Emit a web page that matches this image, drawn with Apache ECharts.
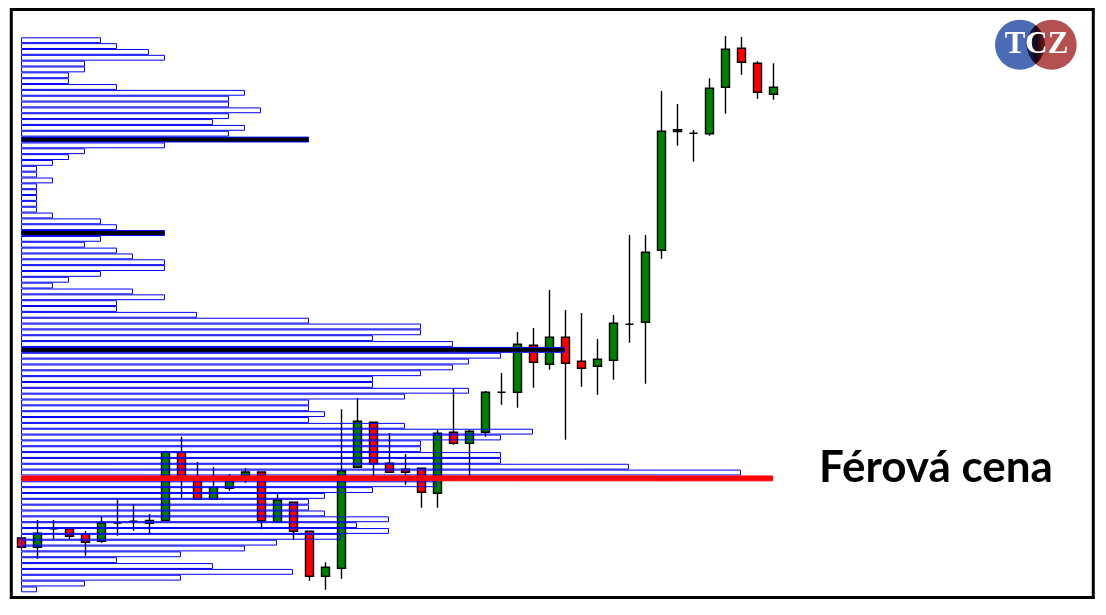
<!DOCTYPE html>
<html>
<head>
<meta charset="utf-8">
<script src="https://cdn.jsdelivr.net/npm/echarts@6/dist/echarts.min.js"></script>
<style>html,body{margin:0;padding:0;background:#fff;}#c{width:1106px;height:615px;}</style>
</head>
<body>
<div id="c"></div>
<script>
// ---- Candles (price in profile-row units) ----
const candleLabels = ["1","2","3","4","5","6","7","8","9","10","11","12","13","14","15","16","17","18","19","20","21","22","23","24","25","26","27","28","29","30","31","32","33","34","35","36","37","38","39","40","41","42","43","44","45","46","47","48"];
const candleOpen  = [9.29,7.70,10.89,10.89,9.93,8.73,11.86,12.15,11.81,12.32,23.96,19.45,15.92,17.80,19.34,20.59,12.08,15.41,10.44,2.74,4.11,21.40,29.10,22.08,21.05,21.23,16.95,27.39,25.50,27.39,34.23,34.23,42.28,39.03,43.65,39.54,38.69,39.71,45.87,46.22,58.54,78.88,78.57,78.50,86.44,93.12,90.55,85.24];
const candleClose = [7.70,10.10,10.89,9.59,8.56,11.86,11.86,12.15,12.32,24.07,19.69,15.92,17.97,19.45,20.59,12.26,15.80,10.44,2.74,4.28,20.81,29.27,22.01,20.54,20.54,17.12,27.22,25.50,27.56,34.23,34.23,42.45,39.37,43.65,39.20,38.34,39.88,46.05,45.87,58.20,78.91,79.17,78.57,86.27,92.95,90.72,85.59,86.44];
const candleLow   = [7.70,5.75,9.17,9.07,6.27,8.49,9.69,10.54,9.93,12.32,16.19,15.92,15.92,17.39,18.76,10.78,12.08,8.95,1.99,0.45,2.33,21.40,19.22,20.54,18.42,14.48,14.48,25.27,19.69,26.63,32.11,31.60,35.02,38.10,26.12,35.19,33.82,36.39,42.73,35.71,57.10,76.45,73.71,78.16,81.92,88.60,84.49,84.32];
const candleHigh  = [9.29,12.38,12.38,10.89,10.49,12.94,16.14,15.11,13.40,24.24,26.63,22.30,21.45,20.25,21.23,20.59,16.83,15.41,10.44,5.14,31.33,33.26,29.10,27.27,23.67,21.23,27.78,34.85,27.78,34.46,37.54,44.56,45.24,51.75,48.32,47.81,43.36,47.47,61.16,61.16,85.81,83.58,79.13,87.98,95.22,95.05,90.89,90.55];

// ---- Volume profile (row price level, top to bottom) ----
const profileLevels = [94,93,92,91,90,89,88,87,86,85,84,83,82,81,80,79,78,77,76,75,74,73,72,71,70,69,68,67,66,65,64,63,62,61,60,59,58,57,56,55,54,53,52,51,50,49,48,47,46,45,44,43,42,41,40,39,38,37,36,35,34,33,32,31,30,29,28,27,26,25,24,23,22,21,20,19,18,17,16,15,14,13,12,11,10,9,8,7,6,5,4,3,2,1,0];
const profileVolume = [5,6,8,9,4,4,3,3,6,14, 13,13,15,13,12,14,13,18,9,4, 3,2,1,1,2,1,1,1,1,1, 2,5,6,9,5,4,6,7,9,9, 5,3,2,7,9,6,6,11,18,25, 25,22,27,34,30,28,27,25,22,22, 28,24,18,18,19,18,24,32,30,25, 25,30,30,38,45,47,26,22,19,18, 18,19,23,21,23,20,16,14,10,6, 12,17,10,4,1];

const titleText = "Férová cena";
const logoText = "TCZ";

// styling (not data)
const blackRows = [17, 33, 53];
const redRow = 75;

const candleData = candleOpen.map((o, i) => [o, candleClose[i], candleLow[i], candleHigh[i]]);
const profileData = profileVolume.map((v, i) => {
  let style = { color: 'rgba(255,255,255,0)' };
  if (blackRows.indexOf(i) >= 0) style = { color: '#000000' };
  if (i === redRow) style = { color: '#ff0000', borderColor: '#ff0000' };
  return { value: v, itemStyle: style };
});

// logo lens polygon
function lens(c1x, c2x, cy, r) {
  const d = c2x - c1x, a = d / 2, h = Math.sqrt(r * r - a * a);
  const t = Math.atan2(h, a);
  const pts = [];
  const n = 30;
  for (let k = 0; k <= n; k++) {
    const ang = -t + (2 * t) * k / n;
    pts.push([c1x + r * Math.cos(ang), cy + r * Math.sin(ang)]);
  }
  for (let k = 0; k <= n; k++) {
    const ang = Math.PI - t + (2 * t) * k / n;
    pts.push([c2x + r * Math.cos(ang), cy + r * Math.sin(ang)]);
  }
  return pts;
}

const chart = echarts.init(document.getElementById('c'), null, { renderer: 'canvas' });
chart.setOption({
  animation: false,
  backgroundColor: '#ffffff',
  grid: [
    { left: 13.3, top: 37.3, width: 768, height: 555 },
    { left: 21, top: 37.3, width: 960, height: 555 }
  ],
  xAxis: [
    { type: 'category', gridIndex: 0, data: candleLabels, boundaryGap: true, show: false },
    { type: 'value', gridIndex: 1, min: 0, max: 60, show: false }
  ],
  yAxis: [
    { type: 'value', gridIndex: 0, min: 0, max: 95, show: false },
    { type: 'category', gridIndex: 1, data: profileLevels, inverse: true, show: false }
  ],
  series: [
    {
      type: 'candlestick',
      xAxisIndex: 0, yAxisIndex: 0,
      data: candleData,
      barWidth: 9,
      clip: false,
      z: 2,
      itemStyle: {
        color: '#008000', color0: '#ff0000',
        borderColor: '#000000', borderColor0: '#000000', borderColorDoji: '#000000',
        borderWidth: 1.4
      }
    },
    {
      type: 'bar',
      xAxisIndex: 1, yAxisIndex: 1,
      data: profileData,
      barCategoryGap: '0%',
      z: 3,
      itemStyle: { borderColor: '#0000ff', borderWidth: 1 }
    }
  ],
  graphic: [
    { type: 'rect', z: 10, shape: { x: 11.3, y: 9.5, width: 1082, height: 588 },
      style: { fill: 'none', stroke: '#000000', lineWidth: 3 } },
    { type: 'text', z: 10, left: 819, top: 446,
      style: { text: titleText, font: 'bold 44px Lato', fill: '#000000' } },
    { type: 'circle', z: 10, shape: { cx: 1020, cy: 44.7, r: 25 }, style: { fill: '#4b6cb5' } },
    { type: 'circle', z: 10, shape: { cx: 1051.7, cy: 44.7, r: 25 }, style: { fill: '#b55050' } },
    { type: 'polygon', z: 11, shape: { points: lens(1020, 1051.7, 44.7, 25) },
      style: { fill: new echarts.graphic.LinearGradient(0, 0, 1, 0, [
        { offset: 0, color: '#0f2a78' }, { offset: 0.5, color: '#120818' }, { offset: 1, color: '#741414' }
      ]) } },
    { type: 'text', z: 12, x: 1036.5, y: 45,
      style: { text: logoText, font: 'bold 31px "Liberation Serif"', fill: '#ffffff', align: 'center', verticalAlign: 'middle' } }
  ]
});
</script>
</body>
</html>
